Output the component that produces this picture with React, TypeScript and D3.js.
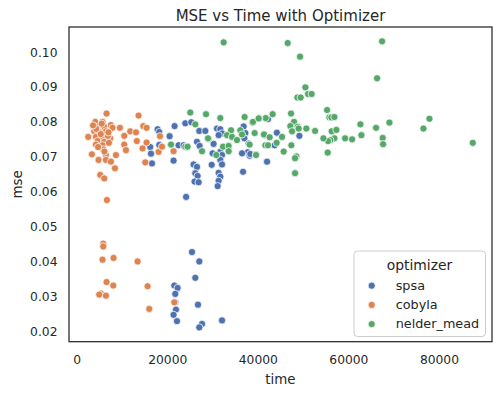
import React from "react";
import * as d3 from "d3";

const categories = ["spsa", "cobyla", "nelder_mead"];
const colors = ["#4C72B0", "#DD8452", "#55A868"];

const spsaTime = [17750,18120,16130,16290,16510,18120,20400,21280,21500,23870,25190,22390,23490,26960,28290,26450,27030,30870,31600,31980,31230,30120,29900,31600,31980,31600,31980,29700,25700,26450,26080,26590,25920,26810,31230,31600,31230,31010,36750,37130,36910,37860,37640,36400,38080,36620,24050,44100,49060,41330,43600,38230,41920,42140,25350,26960,26080,21440,22170,21660,21660,26670,21810,21280,22030,27560,26960,31980];
const spsaMse = [0.0779,0.0771,0.0728,0.0709,0.0681,0.0734,0.0759,0.0689,0.0788,0.0796,0.0799,0.0733,0.0733,0.0774,0.0774,0.0743,0.0731,0.0781,0.0779,0.0767,0.0762,0.0737,0.0710,0.0714,0.0705,0.0691,0.0678,0.0677,0.0678,0.0671,0.0653,0.0645,0.0629,0.0627,0.0654,0.0643,0.0631,0.0616,0.0787,0.0768,0.0753,0.0738,0.0713,0.0710,0.0703,0.0657,0.0585,0.0769,0.0760,0.0762,0.0733,0.0708,0.0686,0.0808,0.0427,0.0400,0.0353,0.0331,0.0324,0.0307,0.0283,0.0276,0.0262,0.0247,0.0229,0.0221,0.0211,0.0231];

const cobylaTime = [6480,13550,3980,5590,4490,5970,7440,7800,9430,3760,4860,6340,2430,4130,5590,7290,4490,5970,4130,5590,3240,5810,6340,4710,6340,7440,8550,8330,5080,5970,10390,10390,10760,11710,12970,13170,14590,15320,15320,14430,15030,18280,17970,18720,21280,4200,5200,6800,4600,6000,3500,6900,5400,7000,6560,5750,5750,5590,8030,13330,6480,7960,15540,5230,4860,6340,21440,15910];
const cobylaMse = [0.0824,0.0818,0.0800,0.0800,0.0786,0.0786,0.0791,0.0783,0.0783,0.0773,0.0771,0.0773,0.0757,0.0757,0.0757,0.0753,0.0745,0.0743,0.0735,0.0733,0.0707,0.0721,0.0705,0.0691,0.0691,0.0686,0.0705,0.0667,0.0648,0.0638,0.0760,0.0735,0.0719,0.0773,0.0770,0.0745,0.0788,0.0783,0.0741,0.0724,0.0684,0.0759,0.0714,0.0729,0.0716,0.0780,0.0765,0.0760,0.0728,0.0715,0.0790,0.0770,0.0795,0.0740,0.0576,0.0451,0.0443,0.0405,0.0410,0.0400,0.0341,0.0331,0.0329,0.0308,0.0305,0.0302,0.0283,0.0264];

const nmTime = [32340,46480,67330,49210,66230,50390,50980,51780,48620,49350,55180,55690,56130,56800,47230,43160,41610,40220,38680,47890,47070,48690,48900,47450,50610,52530,62540,66010,68950,77790,76470,87360,67470,67550,62760,60710,59160,56800,55910,55400,54370,56200,57240,55320,39180,41260,42500,45240,41550,42140,44040,47290,45600,39490,48400,48110,48110,24970,31600,36970,38830,40070,26080,33970,33080,34190,36020,36400,35290,29020,32200,33440,33440,27560,24240,20710,39490,38080,30720,28440,28880,23870,24370];
const nmMse = [0.1028,0.1026,0.1031,0.0987,0.0925,0.0899,0.0880,0.0880,0.0870,0.0870,0.0834,0.0813,0.0813,0.0814,0.0824,0.0822,0.0811,0.0811,0.0798,0.0800,0.0788,0.0786,0.0781,0.0773,0.0781,0.0774,0.0793,0.0783,0.0798,0.0809,0.0781,0.0740,0.0754,0.0736,0.0762,0.0750,0.0753,0.0753,0.0748,0.0745,0.0753,0.0773,0.0777,0.0712,0.0768,0.0764,0.0756,0.0757,0.0733,0.0733,0.0740,0.0733,0.0715,0.0707,0.0701,0.0696,0.0653,0.0827,0.0811,0.0814,0.0800,0.0810,0.0793,0.0776,0.0762,0.0757,0.0776,0.0764,0.0748,0.0751,0.0729,0.0731,0.0716,0.0716,0.0729,0.0735,0.0705,0.0735,0.0705,0.0822,0.0753,0.0729,0.0729];

const xTicks = [0, 20000, 40000, 60000, 80000];
const yTicks = [0.02, 0.03, 0.04, 0.05, 0.06, 0.07, 0.08, 0.09, 0.10];

const W = 500, H = 395;
const L = 69, R = 492, T = 27, B = 341.7;
const FONT = "DejaVu Sans, sans-serif";
const TXT = "#262626";

export default function App() {
  const series = [
    { name: categories[0], color: colors[0], t: spsaTime, m: spsaMse },
    { name: categories[1], color: colors[1], t: cobylaTime, m: cobylaMse },
    { name: categories[2], color: colors[2], t: nmTime, m: nmMse },
  ];
  const allT = [...spsaTime, ...cobylaTime, ...nmTime];
  const allM = [...spsaMse, ...cobylaMse, ...nmMse];
  const [t0, t1] = d3.extent(allT) as [number, number];
  const [m0, m1] = d3.extent(allM) as [number, number];
  const pt = (t1 - t0) * 0.05, pm = (m1 - m0) * 0.05;
  const x = d3.scaleLinear().domain([t0 - pt, t1 + pt]).range([L, R]);
  const y = d3.scaleLinear().domain([m0 - pm, m1 + pm]).range([B, T]);
  const fmtY = d3.format(".2f");

  return (
    <svg width={W} height={H} style={{ position: "absolute", left: 0, top: 0, background: "#fff" }} fontFamily={FONT}>
      <rect x={0} y={0} width={W} height={H} fill="#fff" />
      <text x={(L + R) / 2} y={20.5} textAnchor="middle" fontSize={15} fill={TXT}>MSE vs Time with Optimizer</text>
      {series.map((s) =>
        s.t.map((tv, i) => (
          <circle key={s.name + i} cx={x(tv)} cy={y(s.m[i])} r={3.6} fill={s.color} stroke="#fff" strokeWidth={0.75} />
        ))
      )}
      <rect x={L} y={T} width={R - L} height={B - T} fill="none" stroke="#262626" strokeWidth={1.25} />
      {xTicks.map((v) => (
        <text key={"x" + v} x={x(v)} y={B + 22.5} textAnchor="middle" fontSize={12.3} fill={TXT}>{v}</text>
      ))}
      {yTicks.map((v) => (
        <text key={"y" + v} x={L - 11.5} y={y(v)} dy="0.36em" textAnchor="end" fontSize={12.3} fill={TXT}>{fmtY(v)}</text>
      ))}
      <text x={(L + R) / 2} y={384} textAnchor="middle" fontSize={13.4} fill={TXT}>time</text>
      <text transform={`translate(22,${(T + B) / 2}) rotate(-90)`} textAnchor="middle" fontSize={13.4} fill={TXT}>mse</text>
      <g>
        <rect x={354} y={251} width={131.5} height={85.5} rx={3.5} fill="#fff" fillOpacity={0.8} stroke="#cccccc" strokeWidth={1} />
        <text x={419.5} y={269.5} textAnchor="middle" fontSize={13.9} fill={TXT}>optimizer</text>
        {series.map((s, i) => (
          <g key={"lg" + s.name}>
            <circle cx={371.7} cy={285.7 + i * 19.2} r={3.6} fill={s.color} stroke="#fff" strokeWidth={0.75} />
            <text x={395.7} y={285.7 + i * 19.2} dy="0.3em" fontSize={12.8} fill={TXT}>{s.name}</text>
          </g>
        ))}
      </g>
    </svg>
  );
}
